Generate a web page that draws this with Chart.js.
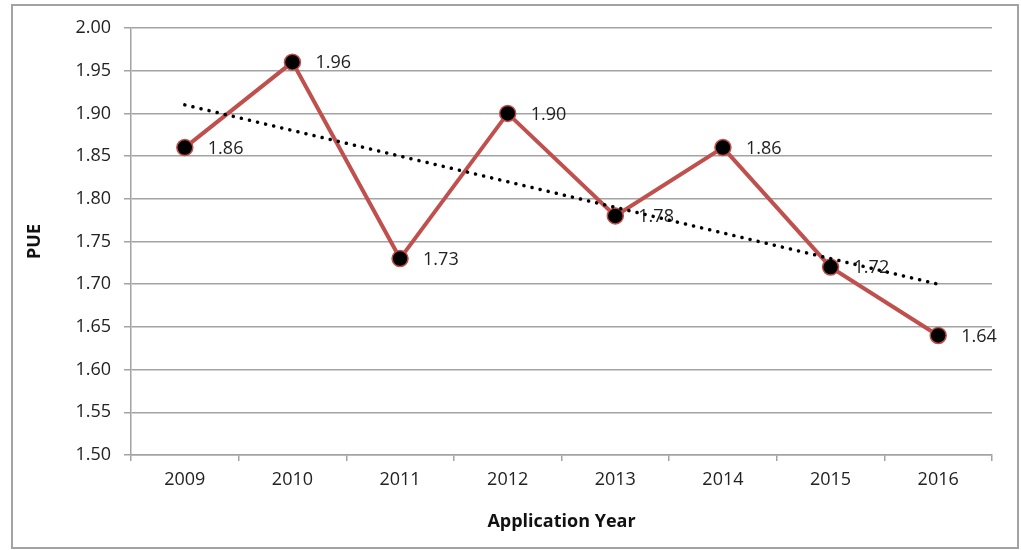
<!DOCTYPE html>
<html>
<head>
<meta charset="utf-8">
<script src="https://cdn.jsdelivr.net/npm/chart.js@4"></script>
<style>
  body { margin: 0; background: #fff; }
  #frame { position: absolute; left: 11px; top: 4px; width: 1004px; height: 541px; border: 2px solid #a3a3a3; }
  #wrap { position: absolute; left: 0; top: 0; width: 1021px; height: 550px; }
</style>
</head>
<body>
<div id="frame"></div>
<div id="wrap"><canvas id="chart" width="1021" height="550"></canvas></div>
<script>
const years = ["2009", "2010", "2011", "2012", "2013", "2014", "2015", "2016"];
const pueValues = [1.86, 1.96, 1.73, 1.90, 1.78, 1.86, 1.72, 1.64];
// trend line ends
const trendYears = ["2009", "2016"];
const trendValues = [1.91, 1.70];
const yTicks = { min: 1.5, max: 2.0, step: 0.05 };

const FONT = "'Open Sans', 'Liberation Sans', sans-serif";
const GRID = "#a3a3a3";
const RED = "#c0504d";

const valueLabels = {
  id: "valueLabels",
  afterDatasetDraw(chart, args) {
    if (args.index !== 0) return;
    const ctx = chart.ctx;
    ctx.save();
    ctx.font = "18px " + FONT;
    ctx.fillStyle = "#222";
    ctx.textAlign = "left";
    ctx.textBaseline = "middle";
    args.meta.data.forEach((pt, i) => {
      ctx.fillText(pueValues[i].toFixed(2), pt.x + 23, pt.y + 1);
    });
    ctx.restore();
  }
};

new Chart(document.getElementById("chart"), {
  type: "line",
  data: {
    labels: years,
    datasets: [
      {
        label: "PUE",
        data: pueValues,
        borderColor: RED,
        borderWidth: 4,
        pointRadius: 8,
        pointBackgroundColor: "#000",
        pointBorderColor: RED,
        pointBorderWidth: 1.5,
        tension: 0,
        order: 2
      },
      {
        label: "Trend",
        data: trendYears.map((y, i) => ({ x: y, y: trendValues[i] })),
        borderColor: "#000",
        borderWidth: 3.5,
        borderDash: [0.1, 8.2],
        borderCapStyle: "round",
        pointRadius: 0,
        order: 1
      }
    ]
  },
  options: {
    responsive: false,
    animation: false,
    layout: { padding: { left: 20, top: 28, right: 29, bottom: 13 } },
    plugins: { legend: { display: false }, tooltip: { enabled: false } },
    scales: {
      x: {
        offset: true,
        grid: { offset: true, drawOnChartArea: false, color: GRID, lineWidth: 1.5, tickLength: 6 },
        border: { color: GRID, width: 1.5 },
        ticks: { color: "#222", padding: 8, font: { family: FONT, size: 18 } },
        title: { display: true, text: "Application Year", color: "#111", font: { family: FONT, size: 18, weight: "bold" } },
        afterFit: s => { s.height = 82; }
      },
      y: {
        min: yTicks.min,
        max: yTicks.max,
        grid: { color: GRID, lineWidth: 1.5, tickLength: 7 },
        border: { color: GRID, width: 1.5 },
        ticks: {
          stepSize: yTicks.step,
          color: "#222",
          padding: 13,
          font: { family: FONT, size: 18 },
          callback: v => v.toFixed(2)
        },
        title: { display: true, text: "PUE", color: "#111", font: { family: FONT, size: 18, weight: "bold" } },
        afterFit: s => { s.width = 111; }
      }
    }
  },
  plugins: [valueLabels]
});
</script>
</body>
</html>
